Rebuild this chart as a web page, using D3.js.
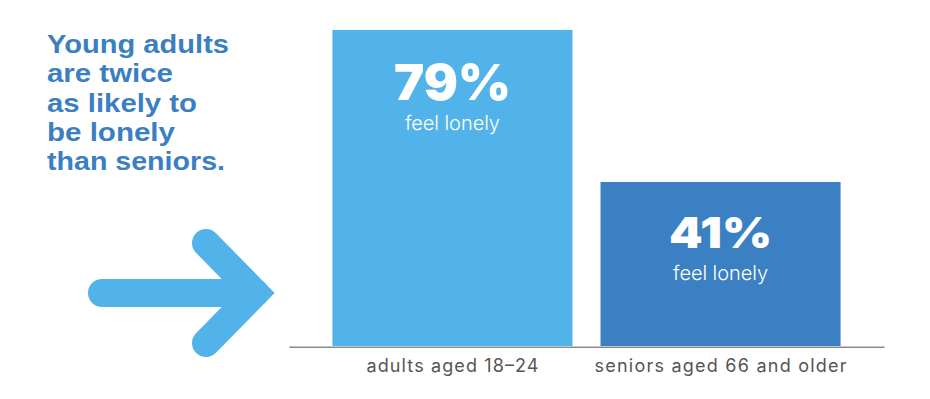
<!DOCTYPE html>
<html>
<head>
<meta charset="utf-8">
<script src="https://cdn.jsdelivr.net/npm/d3@7"></script>
<style>
  html, body { margin: 0; padding: 0; background: #ffffff; }
  svg { display: block; }
</style>
</head>
<body>
<svg id="chart" width="930" height="399"></svg>
<script>
// ---- data ----
const categories = ["adults aged 18–24", "seniors aged 66 and older"];
const values = [79, 41];
const valueLabels = ["79%", "41%"];
const subLabel = "feel lonely";
const titleLines = ["Young adults", "are twice", "as likely to", "be lonely", "than seniors."];

// ---- styles ----
const barColors = ["#51b3e9", "#3a80c3"];
const titleColor = "#3b7fc0";
const arrowColor = "#51b3e9";

const svg = d3.select("#chart");

const x = d3.scaleBand()
  .domain(categories)
  .range([289, 884])
  .paddingInner(0.1045)
  .paddingOuter(0.162);

const y = d3.scaleLinear().domain([0, 100]).range([346, -54]);

// bars
svg.selectAll("rect.bar")
  .data(categories)
  .join("rect")
  .attr("class", "bar")
  .attr("x", d => x(d))
  .attr("width", x.bandwidth())
  .attr("y", (d, i) => y(values[i]))
  .attr("height", (d, i) => y(0) - y(values[i]))
  .attr("fill", (d, i) => barColors[i]);

// axis baseline
const axis = d3.axisBottom(x).tickSize(0).tickPadding(14);
const gAxis = svg.append("g").attr("transform", `translate(0,${y(0) + 0.7})`).call(axis);
gAxis.select(".domain").attr("stroke", "#8a8a8a").attr("stroke-width", 1.5);
const catWidths = [172, 252];
gAxis.selectAll(".tick text")
  .attr("font-family", "Inter, 'Open Sans', sans-serif")
  .attr("font-size", 18)
  .attr("font-weight", 400)
  .attr("fill", "#555555")
  .attr("dy", "0.76em")
  .attr("y", 12)
  .attr("textLength", (d, i) => catWidths[i])
  .attr("lengthAdjust", "spacing");

// value labels
const bigSizes = [49, 42];
const bigOffsets = [70, 66];
const bigWidths = [117, 103];
svg.selectAll("text.big")
  .data(categories)
  .join("text")
  .attr("class", "big")
  .attr("x", d => x(d) + x.bandwidth() / 2)
  .attr("y", (d, i) => y(values[i]) + bigOffsets[i])
  .attr("text-anchor", "middle")
  .attr("font-family", "Inter, 'Open Sans', sans-serif")
  .attr("font-weight", 900)
  .attr("font-size", (d, i) => bigSizes[i])
  .attr("fill", "#ffffff")
  .attr("textLength", (d, i) => bigWidths[i])
  .attr("lengthAdjust", "spacingAndGlyphs")
  .text((d, i) => valueLabels[i]);

const subOffsets = [100, 98];
svg.selectAll("text.sub")
  .data(categories)
  .join("text")
  .attr("class", "sub")
  .attr("x", d => x(d) + x.bandwidth() / 2)
  .attr("y", (d, i) => y(values[i]) + subOffsets[i])
  .attr("text-anchor", "middle")
  .attr("font-family", "Inter, 'Open Sans', sans-serif")
  .attr("font-weight", 300)
  .attr("font-size", 20)
  .attr("fill", "#ffffff")
  .attr("textLength", 95)
  .attr("lengthAdjust", "spacing")
  .text(subLabel);

// title
const titleWidths = [182, 126, 150, 128, 178];
svg.append("g").selectAll("text")
  .data(titleLines)
  .join("text")
  .attr("x", 47)
  .attr("y", (d, i) => 53 + i * 29.3)
  .attr("font-family", "'Liberation Sans', Arial, sans-serif")
  .attr("font-weight", 700)
  .attr("font-size", 26)
  .attr("fill", titleColor)
  .attr("textLength", (d, i) => titleWidths[i])
  .attr("lengthAdjust", "spacingAndGlyphs")
  .text(d => d);

// arrow
const arrowY = 293;
const line = d3.line();
svg.append("path")
  .attr("d", line([[102, arrowY], [255, arrowY]]))
  .attr("fill", "none")
  .attr("stroke", arrowColor)
  .attr("stroke-width", 28)
  .attr("stroke-linecap", "round");
svg.append("path")
  .attr("d", line([[206, 243], [255, arrowY], [206, 343]]))
  .attr("fill", "none")
  .attr("stroke", arrowColor)
  .attr("stroke-width", 28)
  .attr("stroke-linecap", "round")
  .attr("stroke-linejoin", "miter");
</script>
</body>
</html>
